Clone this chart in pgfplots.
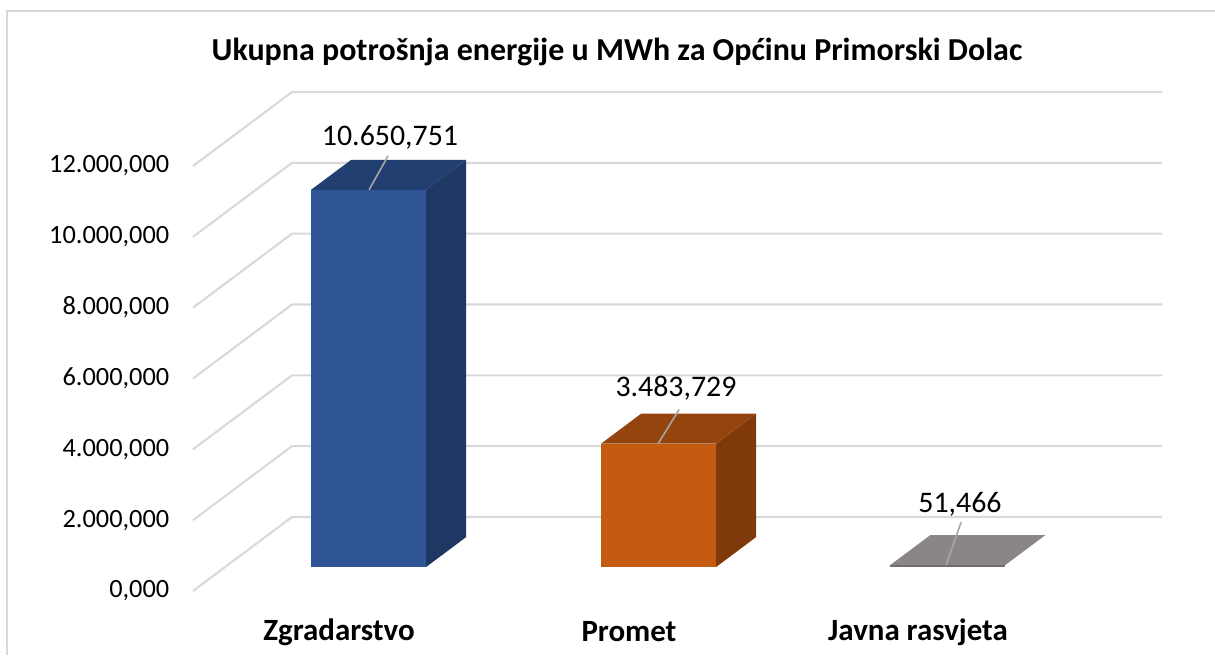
\documentclass[border=0pt]{standalone}
\usepackage{pgfplots}
\pgfplotsset{compat=1.18}
\usepackage{fontspec}
\setmainfont{Carlito}
\definecolor{gridc}{HTML}{D9D9D9}
\definecolor{framec}{HTML}{D9D9D9}
\definecolor{bfront}{HTML}{2F5597}
\definecolor{btop}{HTML}{223F72}
\definecolor{bside}{HTML}{1F3763}
\definecolor{ofront}{HTML}{C55A11}
\definecolor{otop}{HTML}{94440C}
\definecolor{oside}{HTML}{7F390B}
\definecolor{gtop}{HTML}{898685}
\definecolor{gfront}{HTML}{6E6B6A}
\definecolor{leader}{HTML}{A6A6A6}
% x: position on the front plane (px), v: value (MWh), d: depth (px upward shift)
\pgfplotsset{table/dd/.style={x expr=\thisrow{x}+1.3378*\thisrow{d}, y expr=\thisrow{v}+28.235*\thisrow{d}, row sep=\\}}
\begin{document}
\begin{tikzpicture}
\begin{axis}[width=12.15cm, height=6.55cm, scale only axis,
  xmin=0, xmax=1215, ymin=-1807, ymax=16687,
  axis lines=none, ticks=none, clip=false]
% frame
\addplot[framec, line width=0.6pt] coordinates {(7,-1807) (7,16376) (1215,16376)};
% grid on the back wall and side wall
\addplot[gridc, line width=0.6pt] table[dd] {x v d\\ 193 0 0\\ 193 0 74\\ 1063 0 74\\};
\addplot[gridc, line width=0.6pt] table[dd] {x v d\\ 193 2000 0\\ 193 2000 74\\ 1063 2000 74\\};
\addplot[gridc, line width=0.6pt] table[dd] {x v d\\ 193 4000 0\\ 193 4000 74\\ 1063 4000 74\\};
\addplot[gridc, line width=0.6pt] table[dd] {x v d\\ 193 6000 0\\ 193 6000 74\\ 1063 6000 74\\};
\addplot[gridc, line width=0.6pt] table[dd] {x v d\\ 193 8000 0\\ 193 8000 74\\ 1063 8000 74\\};
\addplot[gridc, line width=0.6pt] table[dd] {x v d\\ 193 10000 0\\ 193 10000 74\\ 1063 10000 74\\};
\addplot[gridc, line width=0.6pt] table[dd] {x v d\\ 193 12000 0\\ 193 12000 74\\ 1063 12000 74\\};
% Zgradarstvo 10650.751
\addplot[fill=bfront, draw=none] table[dd] {x v d\\ 279 0 24\\ 394 0 24\\ 394 10650.751 24\\ 279 10650.751 24\\};
\addplot[fill=bside, draw=none] table[dd] {x v d\\ 394 0 24\\ 394 0 54\\ 394 10650.751 54\\ 394 10650.751 24\\};
\addplot[fill=btop, draw=none] table[dd] {x v d\\ 279 10650.751 24\\ 394 10650.751 24\\ 394 10650.751 54\\ 279 10650.751 54\\};
% Promet 3483.729
\addplot[fill=ofront, draw=none] table[dd] {x v d\\ 569 0 24\\ 684 0 24\\ 684 3483.729 24\\ 569 3483.729 24\\};
\addplot[fill=oside, draw=none] table[dd] {x v d\\ 684 0 24\\ 684 0 54\\ 684 3483.729 54\\ 684 3483.729 24\\};
\addplot[fill=otop, draw=none] table[dd] {x v d\\ 569 3483.729 24\\ 684 3483.729 24\\ 684 3483.729 54\\ 569 3483.729 54\\};
% Javna rasvjeta 51.466
\addplot[fill=gfront, draw=none] table[dd] {x v d\\ 858 0 24\\ 973 0 24\\ 973 51.466 24\\ 858 51.466 24\\};
\addplot[fill=gtop, draw=none] table[dd] {x v d\\ 858 51.466 24\\ 973 51.466 24\\ 973 51.466 54\\ 858 51.466 54\\};
% leader lines
\addplot[leader, line width=0.45pt] table[dd] {x v d\\ 337 10650.751 24\\ 356 11611 24\\};
\addplot[leader, line width=0.45pt] table[dd] {x v d\\ 626 3483.729 24\\ 647 4444 24\\};
\addplot[leader, line width=0.45pt] table[dd] {x v d\\ 914 51.466 24\\ 929 1266 24\\};
% tick labels
\foreach \v/\t in {0/{0,000},2000/{2.000,000},4000/{4.000,000},6000/{6.000,000},8000/{8.000,000},10000/{10.000,000},12000/{12.000,000}}{
  \edef\temp{\noexpand\node[anchor=east, inner sep=0pt, font=\noexpand\fontsize{7.5}{9}\noexpand\selectfont] at (axis cs:170,\v) {\t};}
  \temp
}
% data labels
\node[font=\fontsize{8.5}{10}\selectfont, inner sep=0pt] at (axis cs:390,12819) {10.650,751};
\node[font=\fontsize{8.5}{10}\selectfont, inner sep=0pt] at (axis cs:676,5732) {3.483,729};
\node[font=\fontsize{8.5}{10}\selectfont, inner sep=0pt] at (axis cs:960,2456) {51,466};
% category labels
\node[font=\fontsize{8.8}{10}\selectfont\bfseries, inner sep=0pt] at (axis cs:339,-1158) {Zgradarstvo};
\node[font=\fontsize{8.8}{10}\selectfont\bfseries, inner sep=0pt] at (axis cs:629,-1158) {Promet};
\node[font=\fontsize{8.8}{10}\selectfont\bfseries, inner sep=0pt] at (axis cs:918,-1158) {Javna rasvjeta};
% title
\node[font=\fontsize{9.1}{11}\selectfont\bfseries, inner sep=0pt] at (axis cs:617,15219) {Ukupna potrošnja energije u MWh za Općinu Primorski Dolac};
\end{axis}
\pgfresetboundingbox
\path[use as bounding box] (current axis.south west) rectangle (current axis.north east);
\end{tikzpicture}
\end{document}
